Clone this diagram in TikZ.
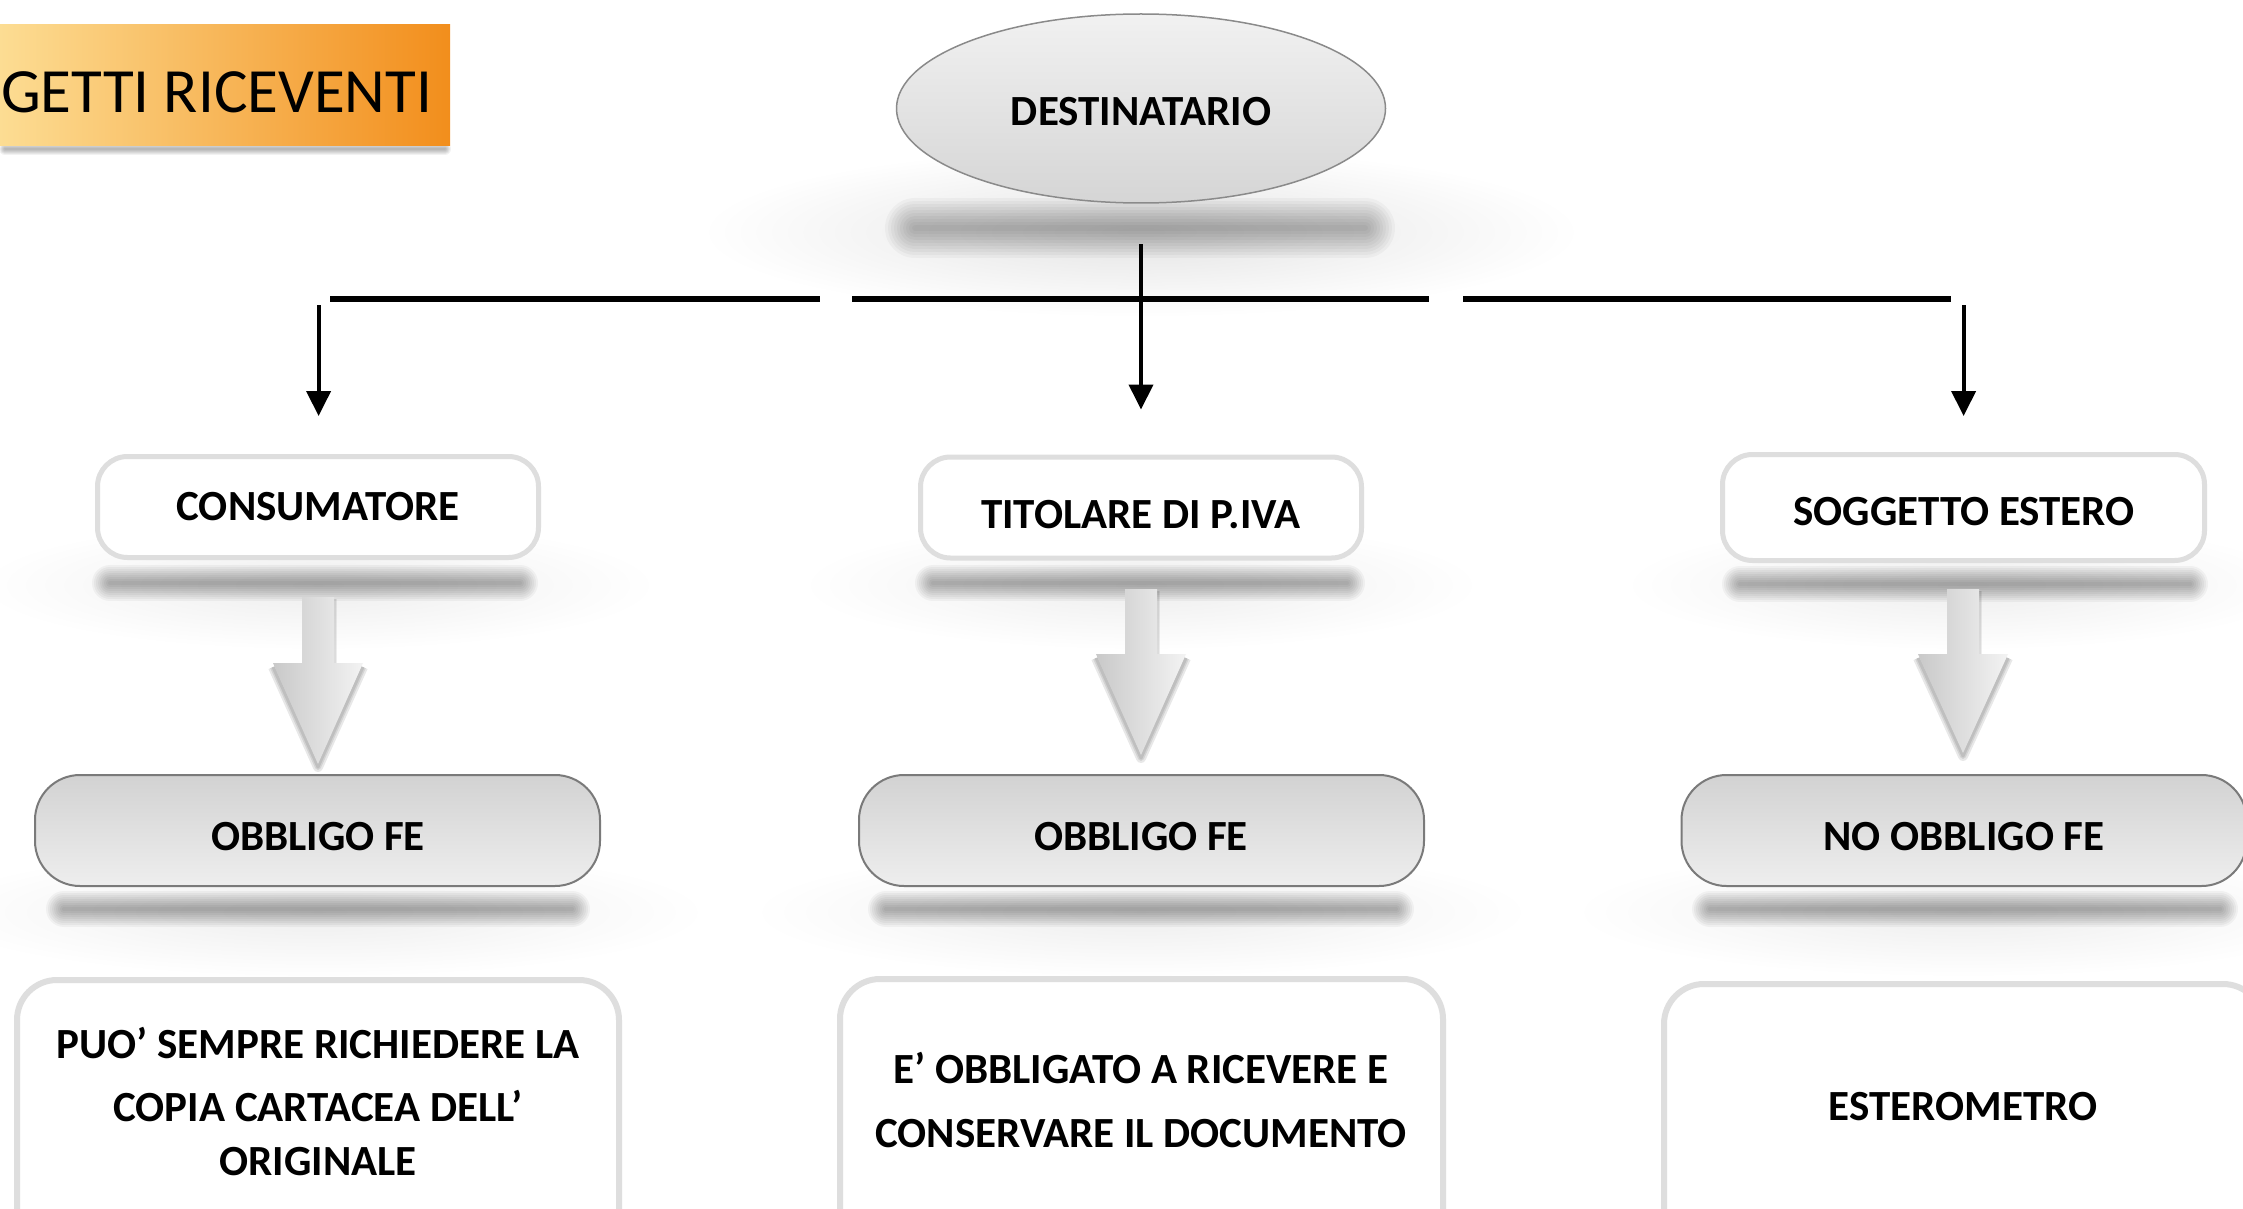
\documentclass[tikz,border=0pt]{standalone}
\usepackage{fontspec}
\setmainfont{Carlito}
\usetikzlibrary{arrows.meta,shapes.geometric}
\definecolor{titleL}{HTML}{FDE29B}
\definecolor{titleR}{HTML}{F28E1C}
\definecolor{ellTop}{HTML}{F1F1F1}
\definecolor{ellBot}{HTML}{D5D5D5}
\definecolor{ellLine}{HTML}{8A8A8A}
\definecolor{boxLine}{HTML}{DEDEDE}
\definecolor{pillTop}{HTML}{D2D2D2}
\definecolor{pillBot}{HTML}{EEEEEE}
\definecolor{pillLine}{HTML}{7A7A7A}
\definecolor{arrL}{HTML}{C9C9C9}
\definecolor{arrR}{HTML}{F3F3F3}
\newcommand\bandshadow[5]{%
  \foreach \w in {#4}{%
    \draw[line width=\w pt, line cap=round, black, opacity=#5] (#1,#3) -- (#2,#3);}}
\begin{document}
\begin{tikzpicture}[x=1pt,y=-1pt,
  lab/.style={font=\fontsize{43}{50}\selectfont\bfseries, inner sep=0pt, anchor=base},
  whitebox/.style={draw=boxLine, line width=5pt, fill=white, rounded corners=30pt, inner sep=0pt},
  lowbox/.style={draw=boxLine, line width=6pt, fill=white, rounded corners=40pt},
  pill/.style={draw=pillLine, line width=2pt, top color=pillTop, bottom color=pillBot, rounded corners=45pt, inner sep=0pt},
  hline/.style={line width=5.5pt, black},
  varrow/.style={line width=4pt, black, -{Triangle[length=25pt,width=24pt]}}]
\useasboundingbox (0,0) rectangle (2243,1209);
\fill[white] (0,0) rectangle (2243,1209);
% soft haze
\shade[inner color=black!11, outer color=white] (1141,232) ellipse (440 and 85);
\foreach \cx in {318,1141,1963}{
  \shade[inner color=black!7, outer color=white] (\cx,585) ellipse (340 and 65);
  \shade[inner color=black!7, outer color=white] (\cx,912) ellipse (390 and 65);
}
% shadows
\bandshadow{915}{1365}{228}{6,12,18,24,30,36,42,48,54,60}{0.03}
\bandshadow{5}{445}{149}{2,4,6,8,10,12}{0.05}
\bandshadow{110}{520}{583}{4,8,12,16,20,24,28,32,36}{0.04}
\bandshadow{933}{1347}{583}{4,8,12,16,20,24,28,32,36}{0.04}
\bandshadow{1740}{2190}{584}{4,8,12,16,20,24,28,32,36}{0.04}
\bandshadow{64}{572}{909}{4,8,12,16,20,24,28,32,36}{0.04}
\bandshadow{886}{1396}{909}{4,8,12,16,20,24,28,32,36}{0.04}
\bandshadow{1710}{2220}{909}{4,8,12,16,20,24,28,32,36}{0.04}
% title
\node[draw=none, left color=titleL, right color=titleR, minimum width=480pt, minimum height=121pt, inner sep=0pt] (titlebox) at (210,85.5) {};
\node[font=\fontsize{63}{70}\selectfont, inner sep=0pt, anchor=base west] (title) at (1,113) {GETTI RICEVENTI};
% root ellipse
\node[ellipse, draw=ellLine, line width=1.5pt, top color=ellTop, bottom color=ellBot, minimum width=489pt, minimum height=189pt, inner sep=0pt] (dest) at (1141,108.5) {};
\node[lab] (destT) at (1141,125.5) {DESTINATARIO};
% connectors
\coordinate (h1s) at (330,299); \coordinate (h1e) at (820,299);
\coordinate (h2s) at (852,299); \coordinate (h2e) at (1429,299);
\coordinate (h3s) at (1463,299); \coordinate (h3e) at (1951,299);
\draw[hline] (h1s) -- (h1e);
\draw[hline] (h2s) -- (h2e);
\draw[hline] (h3s) -- (h3e);
\coordinate (v1s) at (318.6,305); \coordinate (v1e) at (318.6,416);
\coordinate (v2s) at (1141,244); \coordinate (v2e) at (1141,409.5);
\coordinate (v3s) at (1963.6,305); \coordinate (v3e) at (1963.6,416);
\draw[varrow] (v1s) -- (v1e);
\draw[varrow] (v2s) -- (v2e);
\draw[varrow] (v3s) -- (v3e);
% row 1
\node[whitebox, minimum width=441pt, minimum height=101pt] (cons) at (318,507) {};
\node[whitebox, minimum width=441pt, minimum height=101pt] (tit) at (1141,507.5) {};
\node[whitebox, minimum width=482pt, minimum height=106pt] (sogg) at (1963.5,507.5) {};
\node[lab] (consT) at (318,520) {CONSUMATORE};
\node[lab] (titT) at (1141,528) {TITOLARE DI P.IVA};
\node[lab] (soggT) at (1964,525) {SOGGETTO ESTERO};
% block arrows
\foreach \cx/\tp/\nk/\tip in {318/597/663/764, 1141/589/654/755, 1963/589/654/753}{
  \foreach \w in {3,6,10}{
    \draw[black, opacity=0.09, line width=\w pt, line join=round]
      (\cx+45,\nk+4) -- (\cx,\tip+3) -- (\cx-45,\nk+4);}
  \foreach \w in {2,4}{
    \draw[black, opacity=0.07, line width=\w pt]
      (\cx+17,\tp+2) -- (\cx+17,\nk);}
  \shade[left color=arrL, right color=arrR]
    (\cx-16,\tp) -- (\cx+16,\tp) -- (\cx+16,\nk) -- (\cx+45,\nk) -- (\cx,\tip) -- (\cx-45,\nk) -- (\cx-16,\nk) -- cycle;
}
% row 2
\node[pill, minimum width=565pt, minimum height=111pt] (fe1) at (317.5,830.5) {};
\node[pill, minimum width=565pt, minimum height=111pt] (fe2) at (1141.5,830.5) {};
\node[pill, minimum width=565pt, minimum height=111pt] (fe3) at (1964,830.5) {};
\node[lab] (fe1T) at (318,850.5) {OBBLIGO FE};
\node[lab] (fe2T) at (1141,850.5) {OBBLIGO FE};
\node[lab] (fe3T) at (1964,850.5) {NO OBBLIGO FE};
% row 3
\draw[lowbox] (17,980) rectangle (619,1270);
\draw[lowbox] (840,979) rectangle (1443,1270);
\draw[lowbox] (1664,984) rectangle (2263,1270);
\node[lab] (l1a) at (318,1058) {PUO’ SEMPRE RICHIEDERE LA};
\node[lab] (l1b) at (318,1121) {COPIA CARTACEA DELL’};
\node[lab] (l1c) at (318,1175) {ORIGINALE};
\node[lab] (l2a) at (1141,1083.5) {E’ OBBLIGATO A RICEVERE E};
\node[lab] (l2b) at (1141,1147) {CONSERVARE IL DOCUMENTO};
\node[lab] (l3a) at (1963,1120) {ESTEROMETRO};
\end{tikzpicture}
\end{document}
